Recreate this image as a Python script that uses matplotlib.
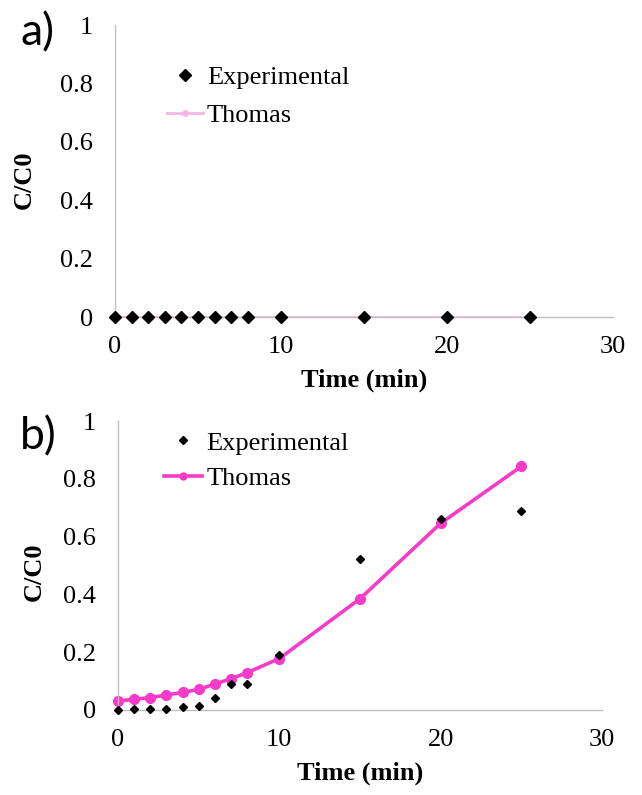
import matplotlib
matplotlib.use("Agg")
import matplotlib.pyplot as plt
from matplotlib.lines import Line2D

# ---- data ----
time_min = [0, 1, 2, 3, 4, 5, 6, 7, 8, 10, 15, 20, 25]
exp_a = [0, 0, 0, 0, 0, 0, 0, 0, 0, 0, 0, 0, 0]
thomas_a = [0, 0, 0, 0, 0, 0, 0, 0, 0, 0, 0, 0, 0]
exp_b = [0.0, 0.002, 0.002, 0.002, 0.009, 0.014, 0.04, 0.09, 0.09, 0.19, 0.521, 0.661, 0.687]
thomas_b = [0.031, 0.037, 0.043, 0.052, 0.061, 0.071, 0.09, 0.108, 0.129, 0.178, 0.385, 0.646, 0.843]
x_ticks = [0, 10, 20, 30]
y_ticks = [0, 0.2, 0.4, 0.6, 0.8, 1]
y_tick_labels = ["0", "0.2", "0.4", "0.6", "0.8", "1"]

W, H = 642, 795
fig = plt.figure(figsize=(W / 100, H / 100), dpi=100)
serif = "Liberation Serif"
tick_fs = 19
lab_fs = 19
leg_fs = 19
gray = "#BFBFBF"
pink_light = "#F5B5E3"
magenta = "#F53BC8"


def ax_px(x0, x30, y0, y1):
    return [x0 / W, 1 - y0 / H, (x30 - x0) / W, (y0 - y1) / H]


def style(ax, ylab_x, ylab_y):
    ax.set_xlim(0, 30)
    ax.set_ylim(0, 1)
    ax.set_xticks(x_ticks)
    ax.set_xticklabels([str(t) for t in x_ticks], fontfamily=serif, fontsize=tick_fs)
    ax.set_yticks(y_ticks)
    ax.set_yticklabels(y_tick_labels, fontfamily=serif, fontsize=tick_fs)
    ax.tick_params(axis="both", length=0)
    ax.tick_params(axis="y", pad=16)
    ax.tick_params(axis="x", pad=14)
    for s in ["top", "right"]:
        ax.spines[s].set_visible(False)
    for s in ["left", "bottom"]:
        ax.spines[s].set_color(gray)
        ax.spines[s].set_linewidth(1.0)
    ax.set_xlabel("Time (min)", fontfamily=serif, fontsize=lab_fs, fontweight="bold", labelpad=7)
    ax.set_ylabel("C/C0", fontfamily=serif, fontsize=lab_fs, fontweight="bold")
    ax.yaxis.set_label_coords(ylab_x, ylab_y)
    ax.patch.set_alpha(0)


# ---- panel a ----
axa = fig.add_axes(ax_px(115, 613, 317, 25))
axa.plot(time_min, thomas_a, color=pink_light, lw=2.0, marker="o", ms=4, zorder=2)
axa.plot(time_min, exp_a, linestyle="none", marker="D", color="black", ms=6.5, zorder=3, clip_on=False)
style(axa, -0.16, 0.47)
ha = [Line2D([], [], linestyle="none", marker="D", color="black", ms=6.5),
      Line2D([], [], color=pink_light, lw=2.0, marker="o", ms=4)]
axa.legend(ha, ["Experimental", "Thomas"], loc="upper left", bbox_to_anchor=(0.105, 0.86),
           frameon=False, borderpad=0, borderaxespad=0, handlelength=1.35, handletextpad=0.15,
           labelspacing=0.55, prop={"family": serif, "size": leg_fs})

# ---- panel b ----
axb = fig.add_axes(ax_px(118, 602, 710, 421))
axb.plot(time_min, thomas_b, color=magenta, lw=2.6, marker="o", ms=7, zorder=2, clip_on=False)
axb.plot(time_min, exp_b, linestyle="none", marker="D", color="black", ms=4.2, zorder=3, clip_on=False)
style(axb, -0.15, 0.48)
hb = [Line2D([], [], linestyle="none", marker="D", color="black", ms=4.2),
      Line2D([], [], color=magenta, lw=2.6, marker="o", ms=5)]
axb.legend(hb, ["Experimental", "Thomas"], loc="upper left", bbox_to_anchor=(0.095, 0.965),
           frameon=False, borderpad=0, borderaxespad=0, handlelength=1.45, handletextpad=0.15,
           labelspacing=0.45, prop={"family": serif, "size": leg_fs})

# ---- panel labels ----
fig.text(20 / W, 1 - 33 / H, "a)", fontfamily="Lato", fontsize=32, ha="left", va="center")
fig.text(20 / W, 1 - 437 / H, "b)", fontfamily="Lato", fontsize=32, ha="left", va="center")

fig.savefig("out.png", dpi=100)
